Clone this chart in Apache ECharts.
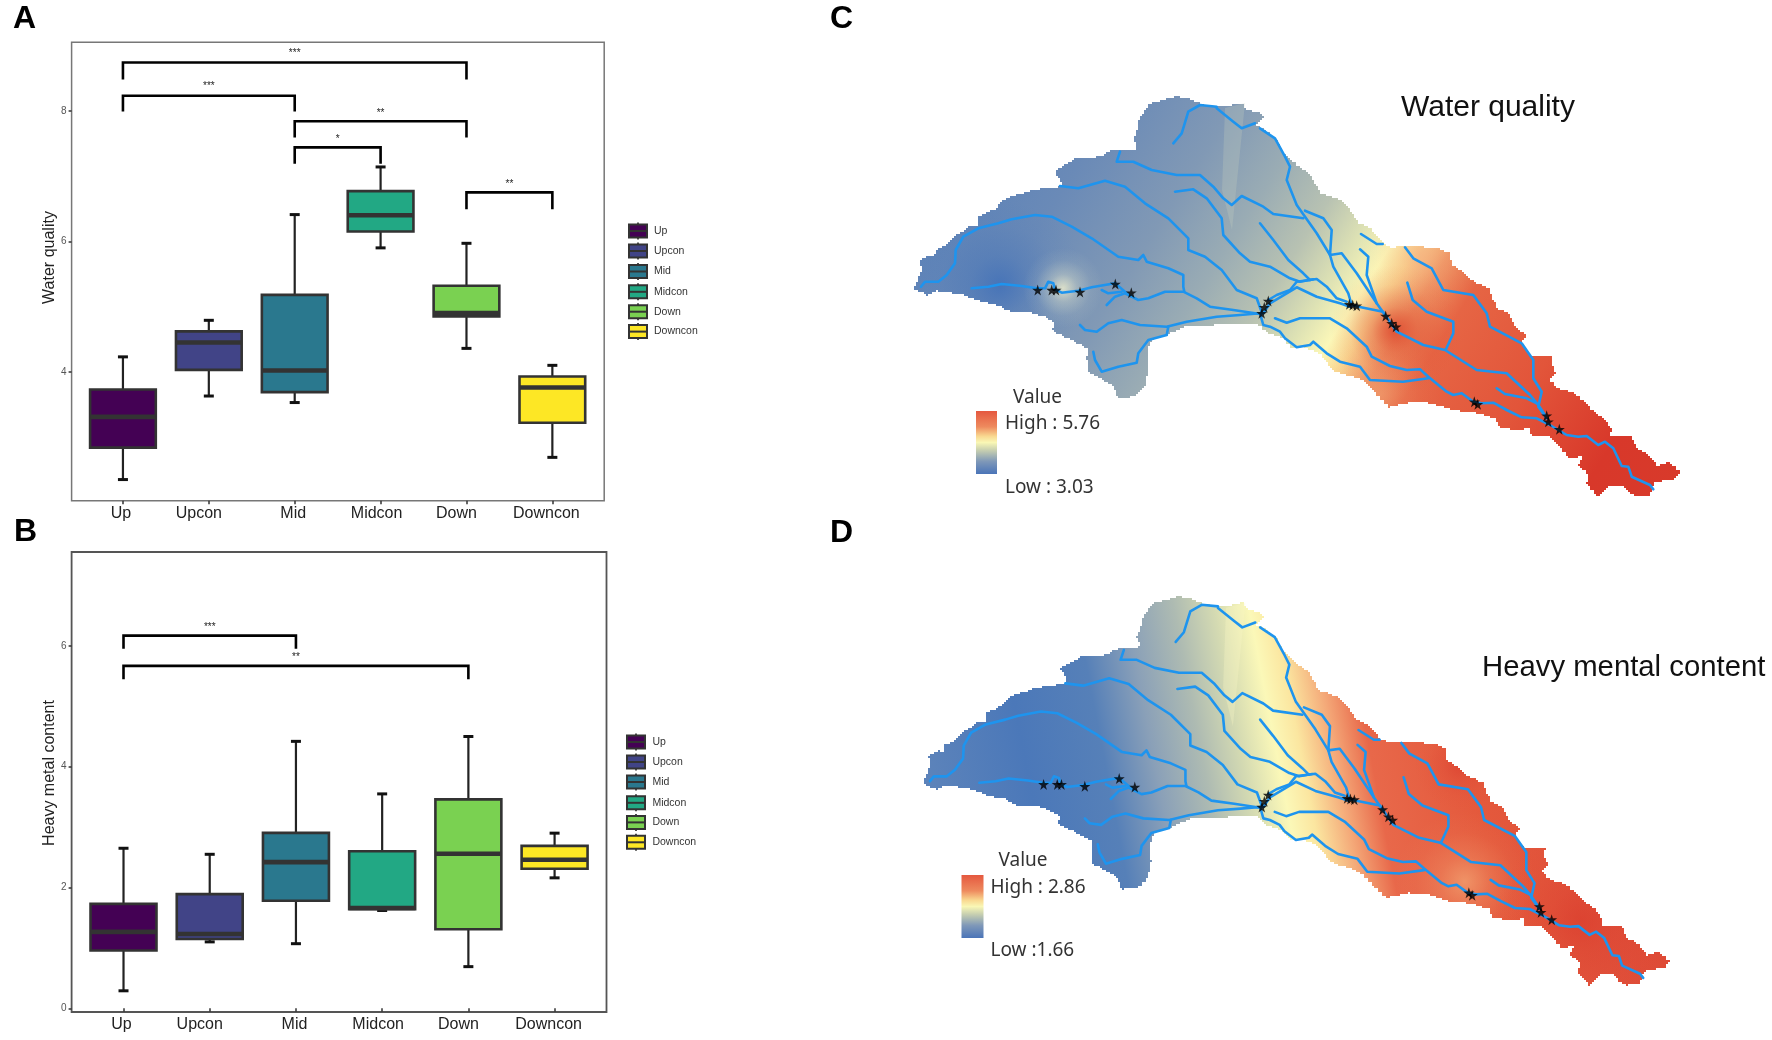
<!DOCTYPE html>
<html><head><meta charset="utf-8">
<style>html,body{margin:0;padding:0;background:#fff}#c{width:1772px;height:1040px}</style>
<script src="https://cdn.jsdelivr.net/npm/echarts@6/dist/echarts.min.js"></script>
</head><body><div id="c"></div>
<script>
const categories = ['Up','Upcon','Mid','Midcon','Down','Downcon'];
const boxColors = ['#440154','#414487','#2a788e','#22a884','#7ad151','#fde725'];
// [low, q1, median, q3, high]
const waterQuality = [
  [2.35,2.84,3.31,3.73,4.23],[3.63,4.03,4.45,4.62,4.79],[3.53,3.69,4.02,5.18,6.41],
  [5.90,6.15,6.40,6.77,7.14],[4.36,4.85,4.90,5.32,5.97],[2.69,3.22,3.76,3.93,4.10]];
const heavyMetal = [
  [0.29,0.957,1.265,1.73,2.65],[1.10,1.147,1.23,1.89,2.55],[1.07,1.78,2.42,2.905,4.42],
  [1.62,1.64,1.66,2.60,3.55],[0.69,1.31,2.56,3.46,4.50],[2.16,2.31,2.46,2.69,2.90]];
// [from category, to category, bracket top, leg end, label value]
const bracketsA = [[0,4,8.74,8.48,8.88],[0,2,8.23,7.99,8.37],[2,4,7.84,7.59,7.96],[2,3,7.44,7.19,7.56],[4,5,6.75,6.49,6.87]];
const bracketSigA = ['***','***','**','*','**'];
const bracketsB = [[0,2,6.17,5.955,6.315],[0,4,5.67,5.45,5.805]];
const bracketSigB = ['***','**'];
const yTicksA = [4,6,8];
const yTicksB = [0,2,4,6];

const basin = [[914.3,287.3],[917.7,278.3],[921.7,268.3],[920,260.7],[928.3,255],[934.3,256],[935.7,249.3],[946.7,244],[955,235],[963.3,230],[968.3,226],[977.7,225],[977.7,216],[988.3,211.7],[996.7,207.3],[1001.7,200],[1015,195],[1026.7,191.7],[1041.7,188.3],[1060,186.7],[1061.7,181.7],[1055,170],[1076,158],[1100,156.7],[1110,150.7],[1135,149.3],[1136.7,145],[1133.3,136.7],[1136.7,130],[1139.3,118.3],[1143.3,111.7],[1150,103.3],[1163.3,100],[1175,96],[1190,99.3],[1203.3,105],[1226.7,106],[1241.7,102.7],[1246.7,110],[1260,112.7],[1263.3,118.3],[1256.7,126],[1266.7,131.7],[1276.7,140],[1283.3,153.3],[1296.7,165],[1310,175],[1320,193.3],[1340,200],[1348.3,208.3],[1358.3,223.3],[1370,228.3],[1383.3,243.3],[1390,247.3],[1413.3,246],[1438.3,248.3],[1450,253.3],[1451.7,265],[1461.7,271.7],[1470,280],[1488.3,288.3],[1496.7,308.3],[1508.3,313.3],[1515,326.7],[1526.7,336.7],[1521.7,343.3],[1530,355],[1552.7,355.7],[1551.7,365],[1555.7,373.3],[1549.3,380],[1556.7,388.3],[1573.3,392.7],[1583.3,401.7],[1593.3,411.7],[1603.3,418.3],[1611.7,430],[1610,435],[1631.7,436.7],[1636,448.3],[1648.3,455],[1656.7,466],[1668.3,462.3],[1680.7,472.7],[1676.7,478.3],[1655,482.7],[1650,495],[1636.7,496.7],[1628.3,491.7],[1623.3,485],[1611.7,485],[1598.3,496.7],[1586.7,483.3],[1588.3,473.3],[1578.3,465],[1581.7,456.7],[1570,458.3],[1556.7,443.3],[1550,436.7],[1531.7,436.7],[1530,428.3],[1518.3,430],[1500,426.7],[1495,418.3],[1480,413.3],[1453.3,410],[1433.3,403.3],[1413.3,401.7],[1390,407.3],[1363,380],[1333,370],[1320,353],[1303,346.7],[1293,348.3],[1283,338],[1267,331.7],[1257,323],[1233,323],[1213,325],[1190,325],[1167,335],[1152,340],[1147,353.3],[1148,370],[1145,386.7],[1135,396.7],[1118,398],[1113,385],[1101.7,378.3],[1088,371.7],[1086.7,356.7],[1088,348.3],[1068.3,338],[1051.7,330],[1055,323],[1045,316.7],[1033,313],[1013.3,312.7],[998.3,305],[981.7,301.7],[965,295],[938.3,290.7],[928.3,295],[915,289.3]];

const riverNorthWest = [[921,286.7],[925,281.7],[938.3,281.7],[946.7,275],[955,263.3],[955.7,250],[963.3,236.7],[978.3,228.3],[998.3,223.3],[1011.7,219.3],[1035,215],[1051.7,216.7],[1071.7,226.7],[1091.7,238.3],[1118.3,256.7],[1138.3,260],[1143.3,255],[1146.7,261.7],[1168.3,268.3],[1183.3,275],[1183.3,286.7],[1184.3,291.7]];
const riverMiddle = [[971.7,288.3],[988.3,286.7],[1001.7,284],[1021.7,286],[1036.7,288.3],[1045,288.3],[1048.3,281.7],[1053.3,283.3],[1055,289.3],[1061.7,292.7],[1078.3,290.7],[1091.7,287.3],[1115,283.3],[1125,291.7],[1131.7,296.7],[1138.3,300],[1148.3,298.3],[1165,291.7],[1183.3,291.7],[1196.7,298.3],[1210,306.7],[1233.3,310],[1260,314]];
const riverFork1 = [[1106.7,305],[1115,296.7],[1125,293.3],[1131.7,296.7]];
const riverFork2 = [[1101.7,290],[1108.3,293.3],[1121.7,291.7]];
const riverSouth = [[1080,325],[1085,330],[1096.7,331.7],[1108.3,323.3],[1121.7,320],[1140,325],[1166.7,326.7],[1186.7,321.7],[1216.7,316.7],[1240,315],[1260,313.3]];
const riverLobe = [[1093.3,351.7],[1095,360],[1101.7,371.7],[1118.3,366.7],[1136.7,362.7],[1138.3,353.3],[1148.3,340],[1166.7,335],[1168.3,326.7]];
const riverNorth1 = [[1120,151.7],[1116.7,161.7],[1133.3,161.7],[1151.7,170],[1176.7,175],[1200,175],[1213.3,186.7],[1223.3,198.3],[1231.7,205],[1241.7,196],[1263.3,206.7],[1273.3,214],[1303.3,218.3]];
const riverNorth2 = [[1060,186],[1078.3,188.3],[1105,180.7],[1125,186.7],[1145,203.3],[1168.3,218.3],[1188.3,238.3],[1188.3,250],[1205,256.7],[1221.7,270],[1236.7,290],[1256.7,298.3],[1262,313]];
const riverNorth3 = [[1175,191.7],[1193.3,189.3],[1206.7,198.3],[1221.7,218.3],[1223.3,235],[1240,253.3],[1250,261.7],[1270,266.7],[1290,278.3],[1300,281.7],[1313.3,279.3]];
const riverNorth4 = [[1260,223.3],[1273.3,240],[1288.3,260],[1303.3,273.3],[1310,280]];
const riverLink1 = [[1268.3,300],[1276.7,295],[1290,290],[1296.7,281.7],[1316.7,279],[1326.7,286.7],[1336.7,298.3],[1346.7,301.7]];
const riverLink2 = [[1263.3,313.3],[1270,303.3],[1296.7,287.3],[1316.7,296.7],[1340,303.3],[1350,306.7]];
const riverLower1 = [[1260,313.3],[1263.3,325],[1270,326.7],[1280,331.7],[1285,338.3],[1296.7,347.3],[1310,345],[1313.3,341.7],[1326.7,353.3],[1340,361.7],[1360,366.7],[1370,380],[1403,381.7],[1428.3,378.3]];
const riverLower2 = [[1275,318.3],[1286.7,322.7],[1300,318.3],[1330,318.3],[1346.7,328.3],[1366.7,346.7],[1371.7,356.7],[1390,366],[1406.7,370],[1420,369.3],[1428.3,376.7],[1446.7,391.7],[1453.3,395],[1461.7,393.3],[1473.3,401.7],[1481.7,403.3],[1493.3,402.7],[1506.7,410],[1521.7,417.3],[1536.7,418.3],[1550,425],[1566.7,435],[1578.3,436.7],[1586.7,436],[1598.3,445],[1605,441.7],[1613.3,448.3],[1621.7,466],[1628.3,466.7],[1631.7,476.7],[1650,485],[1653.3,489.3]];
const riverStem = [[1350,305],[1383,311.7],[1396.7,331.7],[1423.3,345],[1445,350],[1476.7,370],[1506.7,373.3],[1530,395],[1538.3,405],[1545,415]];
const riverEast1 = [[1405,247.3],[1413.3,258.3],[1431.7,268.3],[1443.3,290],[1473.3,295],[1486.7,313.3],[1490,326.7],[1521.7,343.3],[1533.3,360],[1533.3,378.3],[1541.7,391.7],[1538.3,406.7],[1546.7,418.3]];
const riverEast2 = [[1407.3,282.7],[1412.7,300],[1426.7,311.7],[1453.3,321.7],[1453.3,333.3],[1446,349.3]];
const riverEast3 = [[1496.7,388.3],[1505,394],[1526.7,398.3],[1536.7,403.3]];
const riverTopLoop = [[1216.7,106.7],[1200,105],[1188.3,111.7],[1181.7,133.3],[1173.3,143.3]];
const riverTopOut = [[1216.7,108.3],[1233.3,121.7],[1241.7,128.3],[1255,123.3]];
const riverTopMain = [[1260,128.3],[1275,138.3],[1285,156.7],[1290,166.7],[1286.7,180],[1296.7,205],[1316.7,233.3],[1330,255],[1333.3,266.7],[1348.3,293.3],[1351.7,305]];
const riverTopSide = [[1305,210.7],[1323.3,218.3],[1331.7,230],[1330,255],[1341.7,253.3],[1356.7,273.3],[1376.7,303.3],[1385,315]];
const riverShort1 = [[1361,234],[1376.7,244],[1382.7,244]];
const riverShort2 = [[1360,249.3],[1368.3,256.7],[1366.7,275],[1376.7,303.3]];
const rivers = [riverNorthWest,riverMiddle,riverFork1,riverFork2,riverSouth,riverLobe,riverNorth1,riverNorth2,riverNorth3,riverNorth4,riverLink1,riverLink2,riverLower1,riverLower2,riverStem,riverEast1,riverEast2,riverEast3,riverTopLoop,riverTopOut,riverTopMain,riverTopSide,riverShort1,riverShort2];
const samplingSites = [[1037.7,290],[1051.7,290],[1056,290],[1080,292],[1115.3,284],[1131.3,292.7],[1268.3,301],[1264.3,307.3],[1261.7,313.3],[1349.3,304.3],[1352.7,305],[1356.7,305.7],[1385.7,316],[1391.7,323.3],[1396,326.7],[1474.3,401.7],[1477.7,404.3],[1546.7,415.7],[1548.3,421.7],[1559.3,429.3]];
const strip = [[1225,108],[1245,103],[1232,230],[1222,190]];

// raster look: ramp along a direction, with local spots [x,y,radius,colour,alpha]
const rampC = {from:[996.6,108],to:[1655.7,525.2],stops:[[0,'#5c82b8'],[.128,'#6a8ab7'],[.256,'#8199b5'],[.346,'#9aacb4'],[.423,'#b8c2b2'],[.481,'#dee2b4'],[.521,'#fbf7b8'],[.551,'#f9d590'],[.59,'#ee9262'],[.641,'#e66544'],[.769,'#e2553a'],[.897,'#d8382a'],[1,'#d83a2b']]};
const spotsC = [[1000,285,85,'63,111,184',.8],[1063,288,40,'236,236,205',.85],[1395,330,65,'222,74,48',.9],[1420,255,60,'245,174,128',.6],[1380,395,60,'242,168,120',.5]];
const rampD = {from:[936.5,369.6],to:[1771.5,209.7],stops:[[0,'#5c83ba'],[.118,'#4b78b9'],[.212,'#5680b8'],[.271,'#8aa0b8'],[.329,'#aebbb2'],[.376,'#d4dab2'],[.418,'#fbf8b8'],[.447,'#fbe6a0'],[.488,'#f4a878'],[.529,'#e8684a'],[.647,'#e4593c'],[.765,'#e0503a'],[1,'#d93c2c']]};
const spotsD = [[1470,390,70,'242,160,112',.8],[1465,270,45,'219,64,48',.7],[1590,430,90,'217,58,43',.6]];
const scaleStops = [[0,'#e5583f'],[.25,'#ee8a5e'],[.4,'#f9d890'],[.5,'#f9f7b5'],[.62,'#c8d0b0'],[.8,'#7f98b8'],[1,'#4a74b8']];

const FONT = 'Liberation Sans, Arial, sans-serif';
const lift = [2,10,1.5,4,10,6];
const labelRich = {};
lift.forEach((v,i)=>{labelRich['o'+i]={fontSize:16,color:'#222',fontFamily:FONT,padding:[0,v*2,0,0]};});

function boxSeries(rows, gridIdx){
  return {type:'custom',xAxisIndex:gridIdx,yAxisIndex:gridIdx,clip:false,silent:true,z:3,
    encode:{x:0,y:[1,2,3,4,5]},
    data:rows.map((r,i)=>[i].concat(r)),
    renderItem(params,api){
      const i=api.value(0);
      const w=api.size([1,0])[0]*0.765, cap=5;
      const p=v=>api.coord([i,v]);
      const lo=p(api.value(1)),q1=p(api.value(2)),md=p(api.value(3)),q3=p(api.value(4)),hi=p(api.value(5));
      const x=lo[0], dark='#333333';
      const seg=(x1,y1,x2,y2,lw,col)=>({type:'line',shape:{x1,y1,x2,y2},style:{stroke:col||'#222',lineWidth:lw}});
      return {type:'group',children:[
        seg(x,hi[1],x,q3[1],2.2),seg(x,q1[1],x,lo[1],2.2),
        seg(x-cap,hi[1],x+cap,hi[1],3,'#111'),seg(x-cap,lo[1],x+cap,lo[1],3,'#111'),
        {type:'rect',shape:{x:x-w/2,y:q3[1],width:w,height:q1[1]-q3[1]},style:{fill:boxColors[i],stroke:dark,lineWidth:2.6}},
        seg(x-w/2,md[1],x+w/2,md[1],4.6,dark)
      ]};
    }};
}
function bracketSeries(rows,sig,gridIdx){
  return {type:'custom',xAxisIndex:gridIdx,yAxisIndex:gridIdx,clip:false,silent:true,z:4,
    encode:{x:0,y:2},data:rows,
    renderItem(params,api){
      const a=api.value(0),b=api.value(1);
      const t0=api.coord([a,api.value(2)]),t1=api.coord([b,api.value(2)]);
      const l0=api.coord([a,api.value(3)]),l1=api.coord([b,api.value(3)]);
      const lab=api.coord([a,api.value(4)]);
      return {type:'group',children:[
        {type:'polyline',shape:{points:[l0,t0,t1,l1]},style:{stroke:'#000',lineWidth:2.6,fill:null}},
        {type:'text',style:{x:(t0[0]+t1[0])/2,y:lab[1],text:sig[params.dataIndex],align:'center',verticalAlign:'middle',fontSize:10,fontFamily:FONT,fill:'#222'}}
      ]};
    }};
}
// the reference basin is a raster: draw its edge with stair steps
function stair(pts,s){
  const out=[];
  pts.forEach((a,i)=>{
    const b=pts[(i+1)%pts.length];
    const n=Math.max(1,Math.ceil(Math.hypot(b[0]-a[0],b[1]-a[1])/s));
    for(let k=0;k<n;k++){
      const q=[Math.round((a[0]+(b[0]-a[0])*k/n)/s)*s,Math.round((a[1]+(b[1]-a[1])*k/n)/s)*s];
      const l=out[out.length-1];
      if(l&&l[0]!==q[0]&&l[1]!==q[1]) out.push([q[0],l[1]]);
      out.push(q);
    }
  });
  return out;
}
function mapSeries(ramp,spots,stripColor,g){
  return {type:'custom',xAxisIndex:g,yAxisIndex:g,clip:false,silent:true,z:2,data:[[0]],
    encode:{x:[],y:[]},
    renderItem(params,api){
      const pts=stair(basin.map(p=>api.coord(p)),2);
      const a=api.coord(ramp.from),b=api.coord(ramp.to);
      const kids=[{type:'polygon',shape:{points:pts},style:{fill:new echarts.graphic.LinearGradient(a[0],a[1],b[0],b[1],ramp.stops.map(s=>({offset:s[0],color:s[1]})),true)}}];
      spots.forEach(s=>{
        const c=api.coord([s[0],s[1]]);
        const rgba=t=>'rgba('+s[3]+','+t+')';
        kids.push({type:'polygon',shape:{points:pts},style:{fill:new echarts.graphic.RadialGradient(c[0],c[1],s[2],[{offset:0,color:rgba(s[4])},{offset:.35,color:rgba(s[4]*.42)},{offset:.7,color:rgba(s[4]*.1)},{offset:1,color:rgba(0)}],true)}});
      });
      kids.push({type:'polygon',shape:{points:strip.map(p=>api.coord(p))},style:{fill:stripColor}});
      return {type:'group',children:kids};
    }};
}
function riverSeries(g){
  return {type:'lines',coordinateSystem:'cartesian2d',xAxisIndex:g,yAxisIndex:g,polyline:true,silent:true,z:3,
    lineStyle:{color:'#1e94ee',width:2.6,opacity:1,cap:'round',join:'round'},
    data:rivers.map(r=>({coords:r}))};
}
function siteSeries(g){
  return {type:'scatter',xAxisIndex:g,yAxisIndex:g,silent:true,z:5,symbol:'path://M50,0 L61,35 98,35 68,57 79,91 50,70 21,91 32,57 2,35 39,35 Z',symbolSize:11,itemStyle:{color:'#000'},data:samplingSites};
}
function txt(x,y,text,size,opt){
  return Object.assign({type:'text',silent:true,z:20,style:Object.assign({x,y,text,fontSize:size,fontFamily:FONT,fill:'#111',verticalAlign:'middle',align:'left'},opt||{})});
}
function legendKeys(x,ys,tx){
  const out=[];
  categories.forEach((n,i)=>{
    const y=ys[i],c=x+9;
    out.push({type:'line',silent:true,z:20,shape:{x1:c,y1:y-8.5,x2:c,y2:y+8.5},style:{stroke:'#222',lineWidth:1.6}});
    out.push({type:'rect',silent:true,z:21,shape:{x,y:y-6.5,width:18,height:13},style:{fill:boxColors[i],stroke:'#333',lineWidth:2}});
    out.push({type:'line',silent:true,z:22,shape:{x1:x,y1:y,x2:x+18,y2:y},style:{stroke:'#333',lineWidth:2}});
    out.push(txt(tx,y,n,10.5,{fill:'#333'}));
  });
  return out;
}
function scaleBar(x,y,w,h){
  return {type:'rect',silent:true,z:20,shape:{x,y,width:w,height:h},style:{fill:new echarts.graphic.LinearGradient(0,0,0,1,scaleStops.map(s=>({offset:s[0],color:s[1]})))}};
}

const blank = {show:false};
const frameY=(min,max,ticks,name,pad)=>({type:'value',min,max,splitLine:blank,axisLine:blank,
  axisTick:{show:true,length:3,lineStyle:{color:'#333',width:1.5},customValues:ticks},
  axisLabel:{show:true,fontSize:10,color:'#555',fontFamily:FONT,margin:5,customValues:ticks},
  name,nameLocation:'middle',nameGap:14,nameRotate:90,nameTextStyle:{fontSize:16,color:'#222',fontFamily:FONT,padding:[0,0,0,pad]}});
const innerY=(min,max)=>({type:'value',min,max,show:false});
const innerX={type:'category',data:categories,boundaryGap:true,axisLine:blank,splitLine:blank,
  axisTick:{show:true,alignWithLabel:true,length:3.5,lineStyle:{color:'#333',width:1.5}},
  axisLabel:{show:true,margin:5,interval:0,hideOverlap:false,formatter:(v,i)=>'{o'+i+'|'+v+'}',rich:labelRich}};
const hiddenX={type:'value',min:0,max:1,show:false};

const option={
  animation:false,backgroundColor:'#fff',
  grid:[
    {left:71.6,top:42.3,width:532.6,height:458.4,show:true,borderColor:'#777',borderWidth:1.5,backgroundColor:'transparent'},
    {left:80,top:42.3,width:515.3,height:458.4},
    {left:71.6,top:552,width:534.9,height:460,show:true,borderColor:'#555',borderWidth:1.8,backgroundColor:'transparent'},
    {left:80.4,top:552,width:517.3,height:460},
    {left:900,top:90,width:800,height:420},
    {left:909.5,top:590.2,width:779.2,height:407.8}
  ],
  xAxis:[
    Object.assign({},hiddenX,{gridIndex:0}),Object.assign({},innerX,{gridIndex:1}),
    Object.assign({},hiddenX,{gridIndex:2}),Object.assign({},innerX,{gridIndex:3}),
    {type:'value',min:900,max:1700,show:false,gridIndex:4},
    {type:'value',min:900,max:1700,show:false,gridIndex:5}
  ],
  yAxis:[
    Object.assign(frameY(2.026,9.05,yTicksA,'Water quality',28),{gridIndex:0}),
    Object.assign(innerY(2.026,9.05),{gridIndex:1}),
    Object.assign(frameY(-0.061,7.555,yTicksB,'Heavy metal content',18),{gridIndex:2}),
    Object.assign(innerY(-0.061,7.555),{gridIndex:3}),
    {type:'value',min:90,max:510,inverse:true,show:false,gridIndex:4},
    {type:'value',min:90,max:510,inverse:true,show:false,gridIndex:5}
  ],
  series:[
    boxSeries(waterQuality,1),bracketSeries(bracketsA,bracketSigA,1),
    boxSeries(heavyMetal,3),bracketSeries(bracketsB,bracketSigB,3),
    mapSeries(rampC,spotsC,'rgba(205,212,190,0.25)',4),riverSeries(4),siteSeries(4),
    mapSeries(rampD,spotsD,'rgba(252,250,200,0.3)',5),riverSeries(5),siteSeries(5)
  ],
  graphic:[].concat(
    legendKeys(629,[231,251,271.5,291.8,311.7,331.6],654),
    legendKeys(627,[742,762,782,802.8,822.4,842.3],652.4),
    [
      txt(13,19,'A',32,{fontWeight:'bold',fill:'#000'}),
      txt(14,532,'B',32,{fontWeight:'bold',fill:'#000'}),
      txt(830,19,'C',32,{fontWeight:'bold',fill:'#000'}),
      txt(830,533,'D',32,{fontWeight:'bold',fill:'#000'}),
      txt(1401,108,'Water quality',30),
      txt(1482,668,'Heavy mental content',29.3),
      scaleBar(976,411,21,63),
      txt(1013,397.5,'Value',19,{fontFamily:'Noto Sans',fill:'#333'}),
      txt(1005,424,'High : 5.76',19,{fontFamily:'Noto Sans',fill:'#333'}),
      txt(1005,487.5,'Low : 3.03',19,{fontFamily:'Noto Sans',fill:'#333'}),
      scaleBar(961.5,875,22,63),
      txt(998.5,861,'Value',19,{fontFamily:'Noto Sans',fill:'#333'}),
      txt(990.5,888,'High : 2.86',19,{fontFamily:'Noto Sans',fill:'#333'}),
      txt(990.5,951,'Low :1.66',19,{fontFamily:'Noto Sans',fill:'#333'})
    ])
};
const chart=echarts.init(document.getElementById('c'),null,{renderer:'canvas'});
chart.setOption(option);
</script></body></html>
